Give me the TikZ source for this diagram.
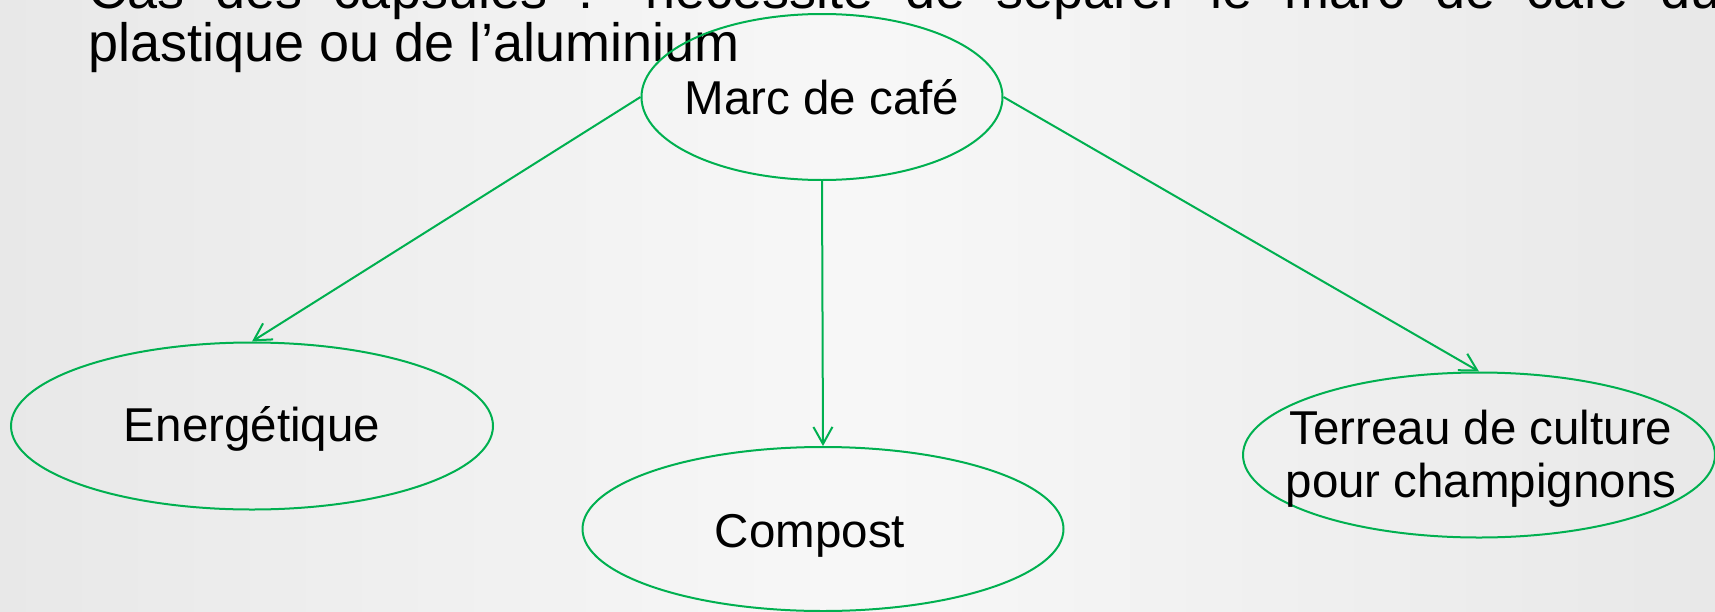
\documentclass[tikz,border=0pt]{standalone}
\usepackage{fontspec}
\setmainfont{Liberation Sans}
\usetikzlibrary{shapes.geometric,arrows.meta}
\definecolor{vertpp}{HTML}{00B050}
\tikzset{
  bulle/.style={draw=vertpp,line width=1pt,ellipse,inner sep=0pt},
  fleche/.style={draw=vertpp,line width=1pt,-{Straight Barb[length=8.5pt,width=9.5pt]}},
  etiq/.style={font=\fontsize{23.75pt}{26.5pt}\selectfont,align=center,inner sep=0pt},
  titre/.style={font=\fontsize{27pt}{24pt}\selectfont,inner sep=0pt,anchor=base west}
}
\begin{document}
\begin{tikzpicture}[x=0.5pt,y=-0.5pt]
	   \useasboundingbox (0,0) rectangle (1715,611);
	   \clip (0,0) rectangle (1715,611);
	   \shade[left color=black!9,right color=black!9,middle color=black!3] (0,0) rectangle (1715,611);
	   % texte du haut
	   \node [titre] (ligne1) at (88,8) {\makebox[816pt][s]{Cas des capsules : nécessité de séparer le marc de café du}};
	   \node [titre] (ligne2) at (88,61) {plastique ou de l’aluminium};
	   % ellipses
	   \node [bulle,minimum width=180.5pt,minimum height=83pt] (marc) at (822,97) {};
	   \node [bulle,minimum width=241pt,minimum height=83.5pt] (energ) at (252,426) {};
	   \node [bulle,minimum width=240.5pt,minimum height=82pt] (compost) at (823,529) {};
	   \node [bulle,minimum width=236pt,minimum height=82.5pt] (terreau) at (1479,455) {};
	   \node [etiq] (tmarc) at (marc) {Marc de café};
	   \node [etiq] (tenerg) at (252,429) {Energétique};
	   \node [etiq] (tcompost) at (810,536) {Compost};
	   \node [etiq] (tterreau) at (1481,459) {Terreau de culture\\pour champignons};
	   % fleches
	   \draw [fleche] (marc.west) -- (energ.north);
	   \draw [fleche] (marc.south) -- (compost.north);
	   \draw [fleche] (marc.east) -- (terreau.north);
\end{tikzpicture}
\end{document}
